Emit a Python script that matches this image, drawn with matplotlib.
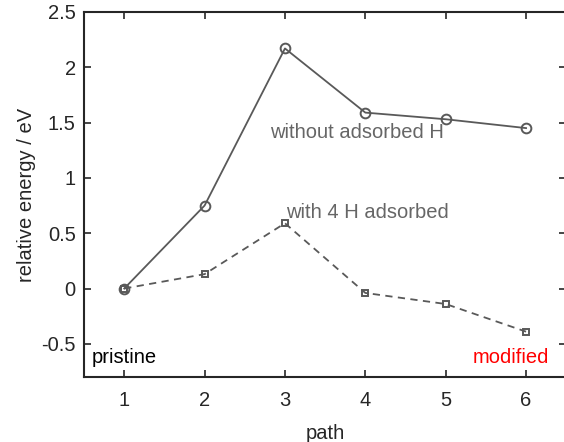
import numpy as np
import matplotlib
matplotlib.use('Agg')
import matplotlib.pyplot as plt

plt.rcParams['font.family'] = ['Liberation Sans', 'DejaVu Sans']

path = [1, 2, 3, 4, 5, 6]
without_h = [0.0, 0.75, 2.17, 1.59, 1.53, 1.45]
with_4h = [0.0, 0.13, 0.59, -0.04, -0.14, -0.39]
yticks = [-0.5, 0, 0.5, 1, 1.5, 2, 2.5]
ytick_labels = ['-0.5', '0', '0.5', '1', '1.5', '2', '2.5']

grey = '#595959'
fs = 14.5

fig = plt.figure(figsize=(5.64, 4.42), dpi=100)
ax = fig.add_axes([0.149, 0.147, 0.855, 0.826])

ax.plot(path, without_h, '-o', color=grey, lw=1.3, ms=7, mfc='none', mew=1.4)
ax.plot(path, with_4h, '--s', color=grey, lw=1.3, ms=5, mfc='none', mew=1.4,
        dashes=(4, 3))

ax.set_xlim(0.5, 6.5)
ax.set_ylim(-0.8, 2.5)
ax.set_xticks(path)
ax.set_yticks(yticks)
ax.set_yticklabels(ytick_labels)
ax.tick_params(direction='in', top=True, right=True, labelsize=fs,
               length=5, width=1.2, colors='#262626')
ax.tick_params(axis='x', pad=10)
ax.tick_params(axis='y', pad=6)
for sp in ax.spines.values():
    sp.set_linewidth(1.5)
    sp.set_color('#262626')

ax.set_xlabel('path', fontsize=fs, color='#262626', labelpad=10)
ax.set_ylabel('relative energy / eV', fontsize=fs, color='#262626', labelpad=4)

ax.text(3.9, 1.41, 'without adsorbed H', fontsize=fs, color='#666666',
        ha='center', va='center')
ax.text(4.03, 0.69, 'with 4 H adsorbed', fontsize=fs, color='#666666',
        ha='center', va='center')
ax.text(0.6, -0.62, 'pristine', fontsize=fs, color='black',
        ha='left', va='center')
ax.text(6.29, -0.62, 'modified', fontsize=fs, color='red',
        ha='right', va='center')

fig.savefig('out.png', dpi=100)
